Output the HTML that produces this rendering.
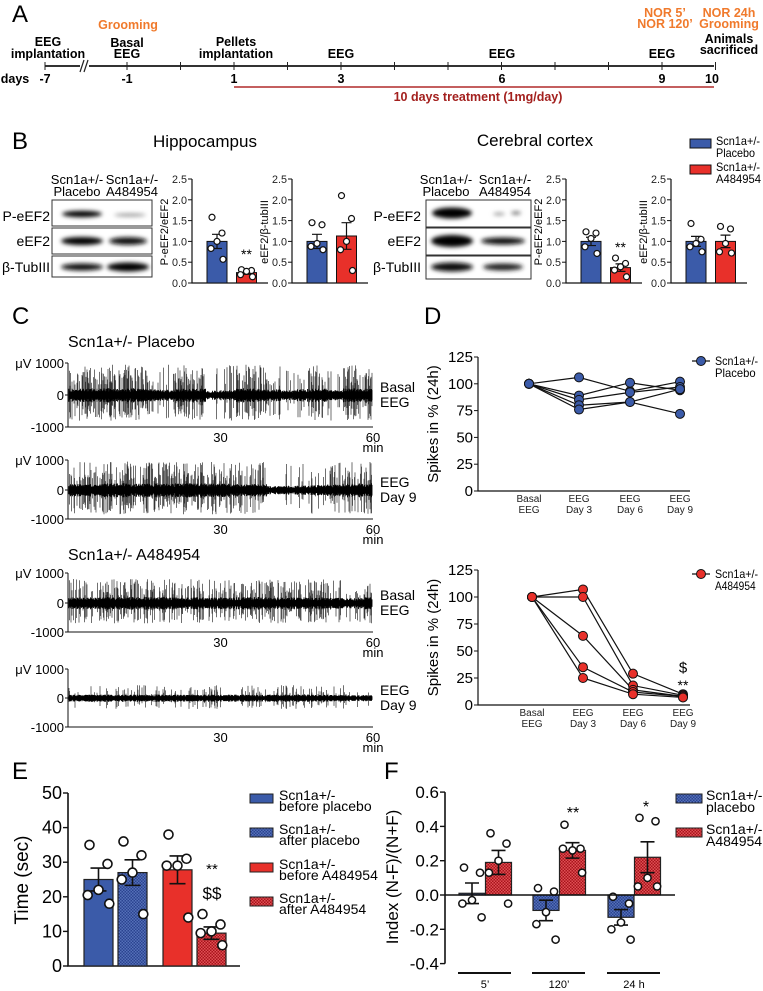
<!DOCTYPE html>
<html><head><meta charset="utf-8">
<style>
html,body{margin:0;padding:0;background:#fff;}
svg{display:block;font-family:"Liberation Sans",Arial,sans-serif;}
.b{font-weight:bold;font-size:12.5px;}
.or{fill:#f07a2c;}
</style></head>
<body>
<svg id="fig" width="763" height="991" viewBox="0 0 763 991" xmlns="http://www.w3.org/2000/svg">
<defs>
<pattern id="blueChk" width="3" height="3" patternUnits="userSpaceOnUse"><rect width="3" height="3" fill="#2b4390"/><rect width="1.5" height="1.5" fill="#5470b8"/><rect x="1.5" y="1.5" width="1.5" height="1.5" fill="#5470b8"/></pattern>
<pattern id="redChk" width="3" height="3" patternUnits="userSpaceOnUse"><rect width="3" height="3" fill="#a8141b"/><rect width="1.5" height="1.5" fill="#e05055"/><rect x="1.5" y="1.5" width="1.5" height="1.5" fill="#e05055"/></pattern>
<filter id="blur" x="-20%" y="-50%" width="140%" height="200%"><feGaussianBlur stdDeviation="2.2"/></filter>
</defs>

<!-- Panel letters -->
<g font-size="24">
<text x="12" y="22">A</text>
<text x="12" y="149">B</text>
<text x="12" y="324">C</text>
<text x="424" y="324">D</text>
<text x="12" y="779">E</text>
<text x="384" y="779">F</text>
</g>

<!-- Panel A timeline -->
<g>
<line x1="45" y1="66" x2="714" y2="66" stroke="#333" stroke-width="2"/>
<rect x="80" y="60" width="9" height="12" fill="#fff"/>
<line x1="80" y1="72" x2="84" y2="60" stroke="#222" stroke-width="1.2"/>
<line x1="84" y1="72" x2="88" y2="60" stroke="#222" stroke-width="1.2"/>
<g id="tlTicks" stroke="#222" stroke-width="1"></g>
<line x1="234" y1="87" x2="714" y2="87" stroke="#b02a2a" stroke-width="1.5"/>
<g class="b" text-anchor="middle">
<text x="48" y="46">EEG</text>
<text x="48" y="58">implantation</text>
<text x="128" y="29" class="b or">Grooming</text>
<text x="127" y="47">Basal</text>
<text x="127" y="58">EEG</text>
<text x="236" y="46">Pellets</text>
<text x="236" y="58">implantation</text>
<text x="341" y="58">EEG</text>
<text x="502" y="58">EEG</text>
<text x="662" y="58">EEG</text>
<text x="665" y="17" class="b or">NOR 5’</text>
<text x="665" y="28" class="b or">NOR 120’</text>
<text x="729" y="17" class="b or">NOR 24h</text>
<text x="729" y="28" class="b or">Grooming</text>
<text x="729" y="43">Animals</text>
<text x="729" y="54">sacrificed</text>
<text x="15" y="83">days</text>
<text x="45" y="83">-7</text><text x="127" y="83">-1</text><text x="234" y="83">1</text>
<text x="341" y="83">3</text><text x="502" y="83">6</text><text x="662" y="83">9</text><text x="712" y="83">10</text>
<text x="478" y="101" fill="#a3201e">10 days treatment (1mg/day)</text>
</g>
</g>

<!-- Panel B titles and legend -->
<text x="205" y="147" font-size="17" text-anchor="middle">Hippocampus</text>
<text x="535" y="146" font-size="17" text-anchor="middle">Cerebral cortex</text>
<g font-size="12">
<rect x="690" y="139" width="21" height="9" fill="#3b5ba9" stroke="#111"/>
<text x="716" y="145" textLength="44" lengthAdjust="spacingAndGlyphs">Scn1a+/-</text><text x="716" y="157" textLength="39" lengthAdjust="spacingAndGlyphs">Placebo</text>
<rect x="690" y="165" width="21" height="9" fill="#e8302a" stroke="#111"/>
<text x="716" y="171" textLength="44" lengthAdjust="spacingAndGlyphs">Scn1a+/-</text><text x="716" y="183" textLength="45" lengthAdjust="spacingAndGlyphs">A484954</text>
</g>

<!-- Blots -->
<g font-size="13">
<text x="77" y="184" text-anchor="middle">Scn1a+/-</text><text x="77" y="196" text-anchor="middle">Placebo</text>
<text x="132" y="184" text-anchor="middle">Scn1a+/-</text><text x="132" y="196" text-anchor="middle">A484954</text>
<text x="50" y="221" text-anchor="end" font-size="14">P-eEF2</text>
<text x="50" y="246" text-anchor="end" font-size="14">eEF2</text>
<text x="50" y="272" text-anchor="end" font-size="14">β-TubIII</text>
<rect x="52" y="200" width="100" height="26" fill="#fff" stroke="#333"/>
<rect x="52" y="228" width="100" height="26" fill="#fff" stroke="#333"/>
<rect x="52" y="256" width="100" height="21" fill="#fff" stroke="#333"/>
<g filter="url(#blur)">
<ellipse cx="82" cy="214" rx="20" ry="3.2" fill="#000"/>
<ellipse cx="130" cy="215" rx="16" ry="1.6" fill="#999"/>
<ellipse cx="82" cy="241" rx="21" ry="4" fill="#000"/>
<ellipse cx="128" cy="241" rx="19" ry="3.8" fill="#111"/>
<ellipse cx="82" cy="267" rx="21" ry="3.5" fill="#111"/>
<ellipse cx="128" cy="267" rx="21" ry="4.5" fill="#000"/>
</g>
</g>
<g font-size="13">
<text x="446" y="184" text-anchor="middle">Scn1a+/-</text><text x="446" y="196" text-anchor="middle">Placebo</text>
<text x="505" y="184" text-anchor="middle">Scn1a+/-</text><text x="505" y="196" text-anchor="middle">A484954</text>
<text x="421" y="221" text-anchor="end" font-size="14">P-eEF2</text>
<text x="421" y="246" text-anchor="end" font-size="14">eEF2</text>
<text x="421" y="272" text-anchor="end" font-size="14">β-TubIII</text>
<rect x="426" y="200" width="105" height="27" fill="#fff" stroke="#333"/>
<rect x="426" y="228" width="105" height="27" fill="#fff" stroke="#333"/>
<rect x="426" y="256" width="105" height="23" fill="#fff" stroke="#333"/>
<g filter="url(#blur)">
<ellipse cx="452" cy="213" rx="20" ry="5.5" fill="#000"/>
<ellipse cx="499" cy="214" rx="6" ry="1.5" fill="#999"/>
<ellipse cx="516" cy="213" rx="5" ry="1.8" fill="#777"/>
<ellipse cx="452" cy="241" rx="21" ry="6" fill="#000"/>
<ellipse cx="503" cy="241" rx="22" ry="3.5" fill="#111"/>
<ellipse cx="452" cy="267" rx="21" ry="4.5" fill="#111"/>
<ellipse cx="503" cy="267" rx="20" ry="3.5" fill="#222"/>
</g>
</g>
<g id="bCharts"></g>

<!-- Panel C -->
<text x="68" y="347" font-size="16">Scn1a+/-  Placebo</text>
<text x="68" y="560" font-size="16">Scn1a+/-  A484954</text>
<g id="eeg"></g>

<!-- Panel D -->
<g id="dCharts"></g>

<!-- Panel E -->
<g id="eChart"></g>
<g font-size="14">
<rect x="250" y="794" width="23" height="9" fill="#3b5ba9" stroke="#222"/>
<text x="279" y="800">Scn1a+/-</text><text x="279" y="811">before placebo</text>
<rect x="250" y="828" width="23" height="9" fill="url(#blueChk)" stroke="#222"/>
<text x="279" y="834">Scn1a+/-</text><text x="279" y="845">after placebo</text>
<rect x="250" y="863" width="23" height="9" fill="#e8302a" stroke="#222"/>
<text x="279" y="869">Scn1a+/-</text><text x="279" y="880">before A484954</text>
<rect x="250" y="897" width="23" height="9" fill="url(#redChk)" stroke="#222"/>
<text x="279" y="903">Scn1a+/-</text><text x="279" y="914">after A484954</text>
</g>

<!-- Panel F -->
<g id="fChart"></g>
<g font-size="14">
<rect x="676" y="794" width="26" height="9" fill="url(#blueChk)" stroke="#222"/>
<text x="706" y="800">Scn1a+/-</text><text x="706" y="812">placebo</text>
<rect x="676" y="828" width="26" height="9" fill="url(#redChk)" stroke="#222"/>
<text x="706" y="834">Scn1a+/-</text><text x="706" y="846">A484954</text>
</g>
</svg>

<script>
// ---------- DATA ----------
const tlDays = [-7,-1,0,1,2,3,4,5,6,7,8,9,10];
// Panel B
const bTicks = [0,0.5,1.0,1.5,2.0,2.5];
const hipPeefMeans = [1.0, 0.25];
const hipPeefSem = [0.17, 0.04];
const hipPeefPtsPlacebo = [1.58, 1.2, 1.0, 0.83, 0.57];
const hipPeefPtsDrug = [0.32, 0.3, 0.28, 0.2, 0.15];
const hipEefMeans = [1.0, 1.13];
const hipEefSem = [0.17, 0.32];
const hipEefPtsPlacebo = [1.45, 1.4, 0.95, 0.88, 0.8];
const hipEefPtsDrug = [2.1, 1.55, 1.0, 0.8, 0.3];
const ctxPeefMeans = [1.0, 0.37];
const ctxPeefSem = [0.1, 0.09];
const ctxPeefPtsPlacebo = [1.23, 1.2, 1.07, 0.87, 0.71];
const ctxPeefPtsDrug = [0.6, 0.47, 0.39, 0.31, 0.15];
const ctxEefMeans = [1.0, 1.0];
const ctxEefSem = [0.12, 0.15];
const ctxEefPtsPlacebo = [1.43, 1.05, 0.95, 0.87, 0.75];
const ctxEefPtsDrug = [1.36, 1.3, 0.95, 0.75, 0.72];
// Panel C: relative spike activity per 3-min segment
const eegActivityT1 = [0.6,0.7,0.7,0.6,0.7,0.5,0.3,0.6,0.6,0.1,0.2,0.7,0.6,0.4,0.15,0.5,0.6,0.2,0.7,0.6];
const eegActivityT2 = [0.5,0.6,0.7,0.7,0.6,0.7,0.6,0.7,0.7,0.6,0.6,0.5,0.5,0.05,0.1,0.15,0.3,0.4,0.6,0.7];
const eegActivityT3 = [0.5,0.5,0.6,0.6,0.6,0.6,0.6,0.5,0.6,0.5,0.5,0.6,0.6,0.5,0.5,0.5,0.5,0.4,0.3,0.5];
const eegActivityT4 = [0.2,0.25,0.3,0.3,0.25,0.3,0.3,0.25,0.3,0.3,0.3,0.3,0.25,0.3,0.3,0.3,0.25,0.2,0.1,0.1];
const eegSpikeMax = [950, 950, 800, 450];
const eegNoise = [190, 200, 190, 140];
const eegXTicks = [30, 60];
// Panel D
const dCategories = [["Basal","EEG"],["EEG","Day 3"],["EEG","Day 6"],["EEG","Day 9"]];
const dTicks = [0,25,50,75,100,125];
const dPlacebo = [[100,106,93,102],[100,89,101,94],[100,85,92,97],[100,80,83,95],[100,76,83,72]];
const dDrug = [[100,107,29,10],[100,100,18,9],[100,64,14,8],[100,35,12,8],[100,25,10,7]];
// Panel E
const eTicks = [0,10,20,30,40,50];
const eMeans = [25, 27, 27.8, 9.5];
const eSem = [3.3, 3.7, 4.0, 1.8];
const ePts0 = [35, 29.5, 22, 20.5, 18];
const ePts1 = [36, 32, 27, 25, 15];
const ePts2 = [38, 31, 29, 29, 14];
const ePts3 = [15, 12, 10, 9.5, 6];
// Panel F
const fGroups = ["5’","120’","24 h"];
const fTicks = [-0.4,-0.2,0.0,0.2,0.4,0.6];
const fPlaceboMeans = [0.01, -0.09, -0.13];
const fPlaceboSem = [0.06, 0.06, 0.045];
const fDrugMeans = [0.19, 0.26, 0.22];
const fDrugSem = [0.07, 0.045, 0.09];
const fPlaceboPts = [[0.16,0.13,-0.03,-0.05,-0.13],[0.04,0.02,-0.1,-0.17,-0.26],[-0.01,-0.05,-0.16,-0.2,-0.26]];
const fDrugPts = [[0.36,0.3,0.2,0.13,-0.05],[0.41,0.27,0.26,0.27,0.13],[0.45,0.43,0.1,0.05,0.05]];

// ---------- HELPERS ----------
const NS = 'http://www.w3.org/2000/svg';
function mk(tag, attrs, parent){const e=document.createElementNS(NS,tag);for(const k in attrs)e.setAttribute(k,attrs[k]);parent.appendChild(e);return e;}
function txt(s, attrs, parent){const t=mk('text',attrs,parent);t.textContent=s;return t;}
const jit = [-5,5,0,-6,6];

// timeline ticks
(function(){
  const g=document.getElementById('tlTicks');
  const dayX = d => d===-7 ? 45 : 127 + (d+1)*53.5;
  tlDays.forEach(d=>{
    const l=mk('line',{x1:dayX(d),x2:dayX(d),y1:62,y2:70},g);
    
    
  });
})();

// ---------- PANEL B ----------
function bChart(axisX, means, sems, ptsA, ptsB, ylabel, ylabX, star){
  const g=document.getElementById('bCharts');
  const y=v=>283 - v*41.6;
  const ax=mk('path',{d:`M${axisX} ${y(2.5)} V283 H${axisX+76}`,stroke:'#111','stroke-width':1.2,fill:'none'},g);
  
  
  bTicks.forEach(t=>{
    mk('line',{x1:axisX-4,x2:axisX,y1:y(t),y2:y(t),stroke:'#111'},g);
    const tl=txt(t.toFixed(1),{x:axisX-5,y:y(t)+4,'font-size':11,'text-anchor':'end',fill:'#222',textLength:15,lengthAdjust:'spacingAndGlyphs'},g);
    
    
  });
  const yl=txt(ylabel,{x:ylabX,y:232,'font-size':11,'text-anchor':'middle',transform:`rotate(-90 ${ylabX} 232)`},g);
  
  
  const cols=['#3b5ba9','#e8302a'];
  const pts=[ptsA,ptsB];
  means.forEach((m,i)=>{
    const bx=axisX+15+i*29.5, w=20, cx=bx+w/2;
    const r=mk('rect',{x:bx,y:y(m),width:w,height:283-y(m),fill:cols[i],stroke:'#111','stroke-width':1},g);
    
    
    mk('path',{d:`M${cx} ${y(m-sems[i])} V${y(m+sems[i])} M${cx-5} ${y(m+sems[i])} H${cx+5} M${cx-5} ${y(m-sems[i])} H${cx+5}`,stroke:'#111','stroke-width':1.2,fill:'none'},g);
    pts[i].forEach((v,k)=>{
      const c=mk('circle',{cx:cx+jit[k],cy:y(v),r:3,fill:'#fff',stroke:'#111','stroke-width':1.2},g);
      
      
    });
  });
  if(star){const s=txt('**',{x:axisX+15+29.5+10,y:y(means[1]+sems[1])-12,'font-size':14,'text-anchor':'middle'},g);
    
    }
}
bChart(192, hipPeefMeans, hipPeefSem, hipPeefPtsPlacebo, hipPeefPtsDrug, 'P-eEF2/eEF2', 168, true);
bChart(292, hipEefMeans, hipEefSem, hipEefPtsPlacebo, hipEefPtsDrug, 'eEF2/β-tubIII', 268, false);
bChart(566, ctxPeefMeans, ctxPeefSem, ctxPeefPtsPlacebo, ctxPeefPtsDrug, 'P-eEF2/eEF2', 542, true);
bChart(671, ctxEefMeans, ctxEefSem, ctxEefPtsPlacebo, ctxEefPtsDrug, 'eEF2/β-tubIII', 647, false);

// ---------- PANEL C ----------
(function(){
  const g=document.getElementById('eeg');
  const traces=[
    {act:eegActivityT1, top:363, zero:395, bot:427, lab:['Basal','EEG'], seed:11},
    {act:eegActivityT2, top:460, zero:490, bot:519, lab:['EEG','Day 9'], seed:23},
    {act:eegActivityT3, top:573, zero:603, bot:632, lab:['Basal','EEG'], seed:37},
    {act:eegActivityT4, top:669, zero:698, bot:727, lab:['EEG','Day 9'], seed:51}
  ];
  traces.forEach((t,ti)=>{
    let s=t.seed*9301+49297;
    const rnd=()=>{s=(s*1103515245+12345)%2147483648;return s/2147483648;};
    const sc=(t.zero-t.top)/1000;
    const x0=69,x1=372;
    let dBase='', dSpk='';
    for(let x=x0;x<=x1;x+=0.5){
      const seg=Math.min(t.act.length-1,Math.floor((x-x0)/(x1-x0+1)*t.act.length));
      const a=t.act[seg];
      const n=eegNoise[ti]*(0.5+0.6*rnd())*(0.6+0.6*a);
      dBase+=`M${x} ${(t.zero-n*sc).toFixed(1)}V${(t.zero+n*sc*1.1).toFixed(1)}`;
      if(rnd()<a*0.75){
        const up=eegSpikeMax[ti]*(0.3+0.7*rnd());
        const dn=eegSpikeMax[ti]*(0.2+0.65*rnd());
        dSpk+=`M${x} ${(t.zero-up*sc).toFixed(1)}V${(t.zero+dn*sc).toFixed(1)}`;
      }
    }
    const sp=mk('path',{d:dSpk,stroke:'#333','stroke-width':0.7,fill:'none'},g);
    
    
    const bp=mk('path',{d:dBase,stroke:'#000','stroke-width':0.9,fill:'none'},g);
    
    
    const ax=mk('path',{d:`M68 ${t.top} V${t.bot} H373`,stroke:'#111','stroke-width':1,fill:'none'},g);
    
    
    mk('line',{x1:65,x2:68,y1:t.top,y2:t.top,stroke:'#111'},g);
    mk('line',{x1:65,x2:68,y1:t.zero,y2:t.zero,stroke:'#111'},g);
    mk('line',{x1:65,x2:68,y1:t.bot,y2:t.bot,stroke:'#111'},g);
    txt('μV 1000',{x:64,y:t.top+5,'font-size':13,'text-anchor':'end'},g);
    txt('0',{x:64,y:t.zero+5,'font-size':13,'text-anchor':'end'},g);
    txt('-1000',{x:64,y:t.bot+5,'font-size':13,'text-anchor':'end'},g);
    const tx = v => 68 + v/60*305;
    eegXTicks.forEach(v=>{
      const l=txt(String(v),{x:tx(v),y:t.bot+15,'font-size':13,'text-anchor':'middle'},g);
      
      
    });
    txt('min',{x:tx(60),y:t.bot+25,'font-size':13,'text-anchor':'middle'},g);
    txt(t.lab[0],{x:380,y:t.zero-3,'font-size':14},g);
    txt(t.lab[1],{x:380,y:t.zero+12,'font-size':14},g);
  });
})();

// ---------- PANEL D ----------
function dChart(zero, per, subjects, color, legY, legTxt, catX, stars){
  const g=document.getElementById('dCharts');
  const y=v=>zero - v*per;
  const ax=mk('path',{d:`M478 ${y(125)} V${zero} H690`,stroke:'#111','stroke-width':1.2,fill:'none'},g);
  
  
  dTicks.forEach(t=>{
    mk('line',{x1:474,x2:478,y1:y(t),y2:y(t),stroke:'#111'},g);
    const l=txt(String(t),{x:473,y:y(t)+5,'font-size':15,'text-anchor':'end'},g);
    
    
  });
  const yc=y(62.5);
  const yl=txt('Spikes in % (24h)',{x:438,y:yc,'font-size':15,'text-anchor':'middle',transform:`rotate(-90 438 ${yc})`},g);
  
  
  dCategories.forEach((c,i)=>{
    const l=txt(c[0],{x:catX[i],y:zero+11,'font-size':10,'text-anchor':'middle',fill:'#222'},g);
    
    
    txt(c[1],{x:catX[i],y:zero+22,'font-size':10,'text-anchor':'middle',fill:'#222'},g);
  });
  subjects.forEach(sv=>{
    const p=mk('polyline',{points:sv.map((v,i)=>`${catX[i]},${y(v)}`).join(' '),stroke:'#111','stroke-width':1.2,fill:'none'},g);
    
    
  });
  subjects.forEach(sv=>{
    sv.forEach((v,i)=>{
      const c=mk('circle',{cx:catX[i],cy:y(v),r:4.5,fill:color,stroke:'#111','stroke-width':1},g);
      
      
    });
  });
  mk('line',{x1:692,x2:710,y1:legY,y2:legY,stroke:'#111','stroke-width':1.2},g);
  const lm=mk('circle',{cx:701,cy:legY,r:4.5,fill:color,stroke:'#111'},g);
  
  
  txt('Scn1a+/-',{x:715,y:legY+4,'font-size':12,textLength:43,lengthAdjust:'spacingAndGlyphs'},g);
  txt(legTxt,{x:715,y:legY+16,'font-size':12,textLength:legTxt.length*5.8,lengthAdjust:'spacingAndGlyphs'},g);
  if(stars){
    const last=catX[3];
    txt('$',{x:last,y:y(30),'font-size':15,'text-anchor':'middle'},g);
    txt('**',{x:last,y:y(14),'font-size':14,'text-anchor':'middle'},g);
  }
}
dChart(491, 1.072, dPlacebo, '#3b5ba9', 361, 'Placebo', [529,579,630,680], false);
dChart(705, 1.08, dDrug, '#e8302a', 574, 'A484954', [532,583,633,683], true);

// ---------- PANEL E ----------
(function(){
  const g=document.getElementById('eChart');
  const y=v=>966 - v*3.46;
  const ax=mk('path',{d:`M68 ${y(50)} V966 H240`,stroke:'#111','stroke-width':1.6,fill:'none'},g);
  
  
  eTicks.forEach(t=>{
    mk('line',{x1:63,x2:68,y1:y(t),y2:y(t),stroke:'#111','stroke-width':1.4},g);
    const l=txt(String(t),{x:62,y:y(t)+6,'font-size':18,'text-anchor':'end'},g);
    
    
  });
  const yl=txt('Time (sec)',{x:28,y:880,'font-size':19,'text-anchor':'middle',transform:'rotate(-90 28 880)'},g);
  
  
  const bx=[84,118,163,197];
  const fills=['#3b5ba9','url(#blueChk)','#e8302a','url(#redChk)'];
  const pts=[ePts0,ePts1,ePts2,ePts3];
  eMeans.forEach((m,i)=>{
    const w=29, cx=bx[i]+w/2;
    const r=mk('rect',{x:bx[i],y:y(m),width:w,height:966-y(m),fill:fills[i],stroke:'#222','stroke-width':1.2},g);
    
    
    mk('path',{d:`M${cx} ${y(m-eSem[i])} V${y(m+eSem[i])} M${cx-8} ${y(m+eSem[i])} H${cx+8} M${cx-8} ${y(m-eSem[i])} H${cx+8}`,stroke:'#111','stroke-width':1.6,fill:'none'},g);
    pts[i].forEach((v,k)=>{
      const c=mk('circle',{cx:cx+jit[k]*1.8,cy:y(v),r:4.5,fill:'#fff',stroke:'#111','stroke-width':1.6},g);
      
      
    });
  });
  const s1=txt('**',{x:212,y:874,'font-size':15,'text-anchor':'middle'},g);
  
  
  txt('$$',{x:212,y:899,'font-size':17,'text-anchor':'middle'},g);
})();

// ---------- PANEL F ----------
(function(){
  const g=document.getElementById('fChart');
  const y=v=>895 - v*171.5;
  const ax=mk('path',{d:`M445 ${y(0.6)} V${y(-0.4)}`,stroke:'#111','stroke-width':1.6,fill:'none'},g);
  
  
  fTicks.forEach(t=>{
    mk('line',{x1:440,x2:445,y1:y(t),y2:y(t),stroke:'#111','stroke-width':1.4},g);
    const l=txt(t.toFixed(1),{x:439,y:y(t)+6,'font-size':17,'text-anchor':'end'},g);
    
    
  });
  const yl=txt('Index (N-F)/(N+F)',{x:398,y:877,'font-size':17,'text-anchor':'middle',transform:'rotate(-90 398 877)'},g);
  
  
  const gx=[459,533,608];
  fGroups.forEach((lab,i)=>{
    const w=26;
    [[fPlaceboMeans,fPlaceboSem,fPlaceboPts,'url(#blueChk)'],[fDrugMeans,fDrugSem,fDrugPts,'url(#redChk)']].forEach((ser,j)=>{
      const m=ser[0][i], se=ser[1][i], bx=gx[i]+j*26.5, cx=bx+w/2;
      const top=Math.min(y(m),y(0)), h=Math.abs(y(m)-y(0));
      const r=mk('rect',{x:bx,y:top,width:w,height:h,fill:ser[3],stroke:'#222','stroke-width':1.2},g);
      
      
      mk('path',{d:`M${cx} ${y(m-se)} V${y(m+se)} M${cx-7} ${y(m+se)} H${cx+7} M${cx-7} ${y(m-se)} H${cx+7}`,stroke:'#111','stroke-width':1.6,fill:'none'},g);
      ser[2][i].forEach((v,k)=>{
        const c=mk('circle',{cx:cx+jit[k]*1.6,cy:y(v),r:3.6,fill:'#fff',stroke:'#111','stroke-width':1.5},g);
        
        
      });
    });
    const gl=mk('line',{x1:gx[i]-1,x2:gx[i]+52,y1:973,y2:973,stroke:'#111','stroke-width':2},g);
    
    
    const l=txt(lab,{x:gx[i]+26,y:988,'font-size':11,'text-anchor':'middle'},g);
    
    
  });
  const zl=mk('line',{x1:445,x2:675,y1:y(0),y2:y(0),stroke:'#111','stroke-width':1.6},g);
  
  
  const s1=txt('**',{x:573,y:818,'font-size':16,'text-anchor':'middle'},g);
  
  
  const s2=txt('*',{x:646,y:812,'font-size':16,'text-anchor':'middle'},g);
  
  
})();
</script>
</body></html>
